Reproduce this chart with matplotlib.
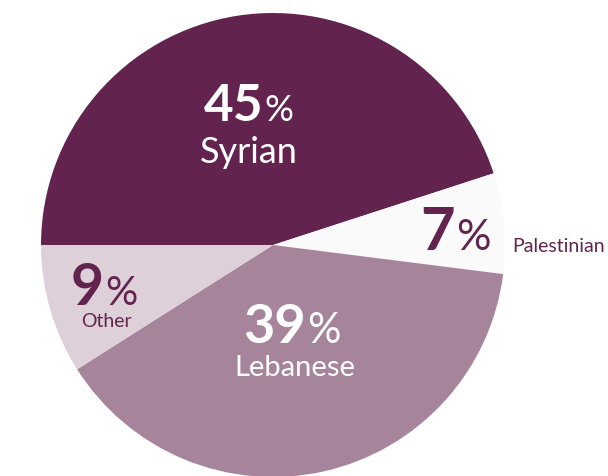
import matplotlib
matplotlib.use('Agg')
import matplotlib.pyplot as plt

# 数据
labels = ['Syrian', 'Palestinian', 'Lebanese', 'Other']
shares = [45, 7, 39, 9]
colors = ['#62244E', '#FBFAFA', '#A6849C', '#DDD0D9']

W, H = 608, 477
fig = plt.figure(figsize=(W / 100, H / 100), dpi=100)
ax = fig.add_axes([0, 0, 1, 1])

ax.pie(shares, colors=colors, startangle=180, counterclock=False,
       center=(273, H - 246), radius=232,
       wedgeprops=dict(linewidth=0))
ax.set_xlim(0, W)
ax.set_ylim(0, H)
ax.set_aspect('auto')
ax.axis('off')

FONT = 'Lato'
dark = '#62244E'

# (split_x, baseline_y, num size, pct size, colour) in pixel positions
num_style = {
    'Syrian': (263, 121, 37, 26, 'white'),
    'Palestinian': (455, 250, 43, 31, dark),
    'Lebanese': (306, 343, 39, 30, 'white'),
    'Other': (104, 305, 41, 29, dark),
}
# (x, baseline_y, size, ha, colour)
lab_style = {
    'Syrian': (249, 163, 26, 'center', 'white'),
    'Palestinian': (512, 252, 14, 'left', dark),
    'Lebanese': (295, 376, 21, 'center', 'white'),
    'Other': (106, 327, 14, 'center', dark),
}

for lab, val in zip(labels, shares):
    sx, by, ns, ps, c = num_style[lab]
    ax.text(sx, H - by, str(val), ha='right', va='baseline', fontsize=ns,
            fontweight='bold', color=c, family=FONT)
    ax.text(sx + 1, H - by, '%', ha='left', va='baseline', fontsize=ps,
            color=c, family=FONT)
    lx, ly, ls, ha, lc = lab_style[lab]
    ax.text(lx, H - ly, lab, ha=ha, va='baseline', fontsize=ls,
            color=lc, family=FONT)

fig.savefig('out.png', dpi=100)
